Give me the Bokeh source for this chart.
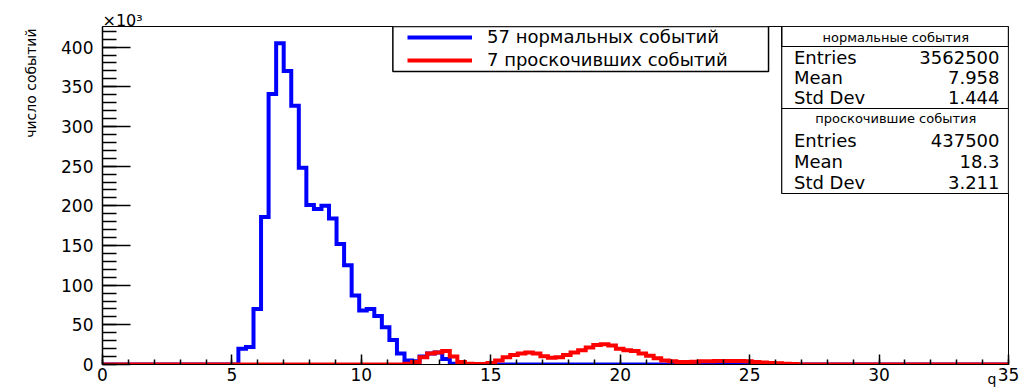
import numpy as np
from bokeh.plotting import figure
from bokeh.models import (Range1d, SingleIntervalTicker, Label, BoxAnnotation,
                          Legend, LegendItem, Title)
from bokeh.embed import file_html
from bokeh.resources import INLINE

# ---------------- data ----------------
X_MIN, X_MAX, N_BINS = 0.0, 35.0, 120          # histogram binning
blue_first_bin = 18                             # first non-empty bin of the blue histogram
blue_counts_k = [20, 22, 70, 186, 341, 405, 370, 326, 248, 201, 196, 200, 184,
                 152, 125, 87, 68, 70, 61, 47, 31, 14, 5, 4, 10, 14, 15, 7, 1]
red_first_bin = 40                              # first non-empty bin of the red histogram
red_counts_k = [1, 3, 9, 14, 15, 17, 10, 3, 1, 0.5, 0.5, 2, 5, 9, 12, 14, 15, 14,
                10.5, 8.5, 9, 12, 15, 18, 21.5, 24.5, 25.5, 24, 20, 18, 17, 14, 11,
                8, 5, 4, 3, 3, 3.5, 4, 4, 4.5, 4.5, 4.5, 4.5, 4, 3, 2.5, 2, 1.5, 1, 0.5]
legend_labels = ["57 нормальных событий", "7 проскочивших событий"]
stat_titles = ["нормальные события", "проскочившие события"]
stat_names = ["Entries", "Mean", "Std Dev"]
stat_values = [["3562500", "7.958", "1.444"], ["437500", "18.3", "3.211"]]
x_title = "q"
y_title = "число событий"
y_exponent = "×10³"
Y_TOP = 426.0                                   # y range end, thousands
x_ticks_interval, y_ticks_interval = 5, 50

# ---------------- layout ----------------
W, H = 1021, 389
FL, FR, FT, FB = 100, 1008, 26, 364
FONT = "DejaVu Sans"


def fx(px):
    return X_MIN + (px - FL) * (X_MAX - X_MIN) / (FR - FL)


def fy(py):
    return (FB - py) * Y_TOP / (FB - FT)


def full(first, vals):
    arr = np.zeros(N_BINS)
    arr[first:first + len(vals)] = vals
    return arr


edges = np.linspace(X_MIN, X_MAX, N_BINS + 1)
blue = full(blue_first_bin, blue_counts_k)
red = full(red_first_bin, red_counts_k)

p = figure(width=W, height=H, x_range=Range1d(X_MIN, X_MAX), y_range=Range1d(0, Y_TOP),
           output_backend="svg", toolbar_location=None,
           min_border_left=FL, min_border_right=W - FR,
           min_border_top=FT, min_border_bottom=H - FB)
p.title.visible = False
p.xgrid.visible = False
p.ygrid.visible = False
p.outline_line_color = "black"
p.outline_line_width = 1
p.background_fill_color = "white"
p.border_fill_color = "white"

r_blue = p.step(edges, np.append(blue, blue[-1]), mode="after", line_color="#0000ff",
                line_width=4, line_join="miter")
r_red = p.step(edges, np.append(red, red[-1]), mode="after", line_color="#ff0000",
               line_width=4, line_join="miter")

# axes
xa = p.xaxis[0]
xa.ticker = SingleIntervalTicker(interval=x_ticks_interval, num_minor_ticks=5)
xa.major_tick_in = 10
xa.major_tick_out = 0
xa.minor_tick_in = 5
xa.minor_tick_out = 0
xa.axis_line_color = "black"
xa.major_tick_line_color = "black"
xa.minor_tick_line_color = "black"
xa.major_tick_line_width = 1.5
xa.minor_tick_line_width = 1.5
xa.major_label_text_font = FONT
xa.major_label_text_font_size = "17px"
xa.major_label_text_color = "black"
xa.major_label_standoff = 3

ya = p.yaxis[0]
ya.ticker = SingleIntervalTicker(interval=y_ticks_interval, num_minor_ticks=5)
ya.major_tick_in = 28
ya.major_tick_out = 0
ya.minor_tick_in = 14
ya.minor_tick_out = 0
ya.axis_line_color = "black"
ya.axis_line_width = 1.5
ya.major_tick_line_color = "black"
ya.minor_tick_line_color = "black"
ya.major_tick_line_width = 1.5
ya.minor_tick_line_width = 1.5
ya.major_label_text_font = FONT
ya.major_label_text_font_size = "17px"
ya.major_label_text_color = "black"
ya.major_label_standoff = 9

# axis titles
p.add_layout(Title(text=y_title, align="right", offset=2, text_font=FONT,
                   text_font_size="14px", text_font_style="normal", text_color="black",
                   standoff=40), "left")
exp_title = Title(text=y_exponent, align="left", text_font=FONT, text_font_size="16px",
                  text_font_style="normal", text_color="black")
q_title = Title(text=x_title, align="right", offset=12, vertical_align="top",
                text_font=FONT, text_font_size="14px", text_font_style="normal",
                text_color="black")
try:
    exp_title.standoff = -6
except Exception:
    exp_title.standoff = 0
try:
    q_title.standoff = -26
except Exception:
    q_title.standoff = 0
p.add_layout(exp_title, "above")
p.add_layout(q_title, "below")

# legend box + legend
p.add_layout(BoxAnnotation(left=fx(391), right=fx(767.5), top=Y_TOP, bottom=fy(71),
                           fill_color="white", fill_alpha=1.0,
                           line_color="black", line_width=1.5, line_alpha=1.0))
legend = Legend(items=[LegendItem(label=legend_labels[0], renderers=[r_blue]),
                       LegendItem(label=legend_labels[1], renderers=[r_red])],
                location=(401 - FL, FB - 74), padding=4, spacing=2, margin=0,
                glyph_width=65, glyph_height=20, label_height=20, label_standoff=15,
                border_line_alpha=0, background_fill_alpha=0,
                label_text_font=FONT, label_text_font_size="18px",
                label_text_color="black")
p.add_layout(legend)

# statistics boxes
box_rows = [(26, 46, 108), (108, None, 193)]
title_y = [36.5, 118.3]
rows_y = [[57.3, 77.3, 97.3], [140, 161, 181.7]]
for k in range(2):
    top, sep, bottom = box_rows[k]
    p.add_layout(BoxAnnotation(left=fx(780.7), right=X_MAX, top=fy(top), bottom=fy(bottom),
                               fill_color="white", fill_alpha=1.0,
                               line_color="black", line_width=1.2, line_alpha=1.0))
    if sep is not None:
        p.add_layout(BoxAnnotation(left=fx(780.7), right=X_MAX, top=fy(top), bottom=fy(sep),
                                   fill_alpha=0.0, line_color="black", line_width=1.2,
                                   line_alpha=1.0))
    p.add_layout(Label(x=fx(895), y=fy(title_y[k]), text=stat_titles[k],
                       text_align="center", text_baseline="middle",
                       text_font=FONT, text_font_size="13px", text_color="black"))
    for j in range(3):
        p.add_layout(Label(x=fx(793), y=fy(rows_y[k][j]), text=stat_names[j],
                           text_align="left", text_baseline="middle",
                           text_font=FONT, text_font_size="18px", text_color="black"))
        p.add_layout(Label(x=fx(999), y=fy(rows_y[k][j]), text=stat_values[k][j],
                           text_align="right", text_baseline="middle",
                           text_font=FONT, text_font_size="18px", text_color="black"))

open("out.html", "w").write(file_html(p, INLINE))
